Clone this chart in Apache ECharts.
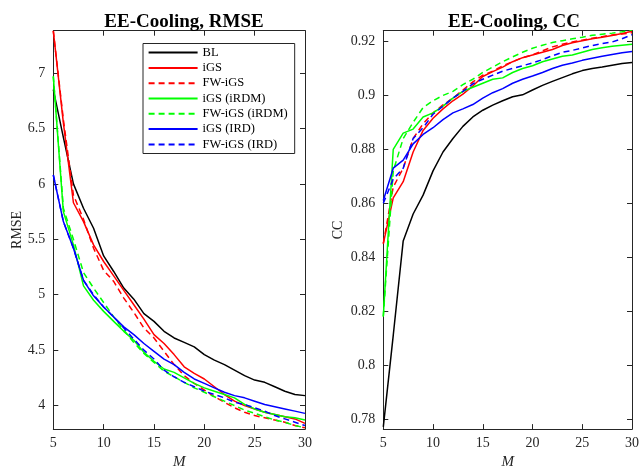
<!DOCTYPE html>
<html>
<head>
<meta charset="utf-8">
<script src="https://cdn.jsdelivr.net/npm/echarts@6/dist/echarts.min.js"></script>
<style>html,body{margin:0;padding:0;background:#fff;}#c{width:642px;height:475px;}</style>
</head>
<body>
<div id="c"></div>
<script>
const M = [5,6,7,8,9,10,11,12,13,14,15,16,17,18,19,20,21,22,23,24,25,26,27,28,29,30];
const seriesNames = ['BL','iGS','FW-iGS','iGS (iRDM)','FW-iGS (iRDM)','iGS (IRD)','FW-iGS (IRD)'];
const xTicks = [5,10,15,20,25,30];

// RMSE panel
const rmseBL        = [6.85,6.42,6.00,5.78,5.60,5.35,5.21,5.06,4.96,4.83,4.76,4.67,4.61,4.57,4.53,4.46,4.41,4.37,4.32,4.27,4.23,4.21,4.17,4.13,4.10,4.09];
const rmseIGS       = [7.38,6.55,5.83,5.66,5.45,5.30,5.17,5.04,4.91,4.78,4.64,4.56,4.46,4.35,4.29,4.24,4.17,4.10,4.04,4.00,3.97,3.94,3.92,3.90,3.88,3.84];
const rmseFWIGS     = [7.38,6.58,5.90,5.68,5.42,5.22,5.12,4.97,4.84,4.70,4.61,4.49,4.37,4.27,4.20,4.14,4.08,4.03,3.98,3.94,3.91,3.89,3.87,3.85,3.82,3.80];
const rmseIGSiRDM   = [6.97,5.75,5.45,5.08,4.95,4.85,4.76,4.67,4.59,4.48,4.40,4.33,4.30,4.25,4.20,4.16,4.13,4.10,4.07,4.01,3.97,3.94,3.92,3.90,3.89,3.87];
const rmseFWIGSiRDM = [6.97,5.78,5.50,5.20,5.06,4.93,4.80,4.68,4.57,4.47,4.39,4.31,4.26,4.21,4.16,4.12,4.08,4.04,4.00,3.96,3.93,3.90,3.87,3.85,3.82,3.80];
const rmseIGSIRD    = [6.08,5.66,5.42,5.13,4.99,4.89,4.80,4.71,4.64,4.56,4.49,4.42,4.37,4.30,4.24,4.20,4.16,4.12,4.09,4.07,4.04,4.01,3.99,3.97,3.95,3.93];
const rmseFWIGSIRD  = [6.08,5.66,5.42,5.13,5.00,4.89,4.80,4.70,4.60,4.50,4.42,4.32,4.26,4.21,4.17,4.13,4.10,4.07,4.03,4.01,3.98,3.95,3.91,3.88,3.85,3.82];

// CC panel
const ccBL        = [0.777,0.811,0.846,0.856,0.863,0.872,0.879,0.884,0.8885,0.892,0.8945,0.8964,0.898,0.8995,0.9002,0.902,0.9037,0.9052,0.9066,0.908,0.9092,0.910,0.9105,0.9112,0.9118,0.9122];
const ccIGS       = [0.845,0.862,0.868,0.879,0.887,0.8915,0.895,0.898,0.9005,0.9035,0.907,0.9088,0.9105,0.9125,0.914,0.915,0.916,0.917,0.9185,0.9195,0.9203,0.921,0.9216,0.9222,0.923,0.9238];
const ccFWIGS     = [0.845,0.866,0.873,0.884,0.8895,0.8935,0.8965,0.899,0.902,0.905,0.9075,0.909,0.911,0.9125,0.914,0.915,0.9165,0.918,0.919,0.9198,0.9205,0.9212,0.9218,0.9224,0.9228,0.9232];
const ccIGSiRDM   = [0.818,0.880,0.886,0.8875,0.892,0.8935,0.896,0.899,0.9015,0.903,0.9045,0.906,0.9065,0.9085,0.910,0.911,0.9125,0.9135,0.9145,0.915,0.916,0.917,0.9177,0.9182,0.9186,0.919];
const ccFWIGSiRDM = [0.818,0.872,0.884,0.890,0.8955,0.898,0.900,0.9015,0.904,0.906,0.9085,0.9105,0.9125,0.9143,0.916,0.9175,0.9186,0.9196,0.9203,0.921,0.9216,0.9223,0.9227,0.9231,0.9236,0.9243];
const ccIGSIRD    = [0.861,0.873,0.876,0.882,0.8855,0.888,0.891,0.8935,0.895,0.8966,0.899,0.901,0.9025,0.9045,0.906,0.9072,0.9085,0.910,0.9112,0.912,0.913,0.9138,0.9145,0.9152,0.9158,0.9163];
const ccFWIGSIRD  = [0.860,0.869,0.873,0.884,0.888,0.893,0.896,0.899,0.9015,0.9043,0.906,0.9075,0.909,0.910,0.911,0.912,0.9133,0.9147,0.916,0.9167,0.9176,0.9185,0.9192,0.9198,0.921,0.9225];

const rmseData = [rmseBL,rmseIGS,rmseFWIGS,rmseIGSiRDM,rmseFWIGSiRDM,rmseIGSIRD,rmseFWIGSIRD];
const ccData = [ccBL,ccIGS,ccFWIGS,ccIGSiRDM,ccFWIGSiRDM,ccIGSIRD,ccFWIGSIRD];
const colors = ['#000000','#ff0000','#ff0000','#00ff00','#00ff00','#0000ff','#0000ff'];
const dashed = [false,false,true,false,true,false,true];

const FONT = 'Liberation Serif';
const AX = '#262626';

function fmt(step){
  return function(v){
    const r = v/step;
    if (Math.abs(r - Math.round(r)) < 1e-6) return String(+v.toFixed(3));
    return '';
  };
}

function xAxes(gi){
  const base = {type:'value', gridIndex:gi, min:5, max:30, interval:5,
    axisLine:{show:true, lineStyle:{color:AX, width:1}},
    axisTick:{show:true, inside:true, length:5, lineStyle:{color:AX}},
    splitLine:{show:false}};
  return [
    Object.assign({}, base, {position:'bottom',
      axisLabel:{show:true, color:AX, fontFamily:FONT, fontSize:14, margin:7},
      name:'M', nameLocation:'middle', nameGap:22,
      nameTextStyle:{fontFamily:FONT, fontSize:15, fontStyle:'italic', color:AX}}),
    Object.assign({}, base, {position:'top', axisLabel:{show:false}})
  ];
}
function yAxes(gi, min, max, step, name, gap){
  const base = {type:'value', gridIndex:gi, min:min, max:max, minInterval:step, maxInterval:step,
    axisLine:{show:true, lineStyle:{color:AX, width:1}},
    axisTick:{show:true, inside:true, length:5, lineStyle:{color:AX}},
    splitLine:{show:false}};
  return [
    Object.assign({}, base, {position:'left',
      axisLabel:{show:true, color:AX, fontFamily:FONT, fontSize:14, margin:8, formatter:fmt(step)},
      name:name, nameLocation:'middle', nameGap:gap, nameRotate:90,
      nameTextStyle:{fontFamily:FONT, fontSize:14, color:AX}}),
    Object.assign({}, base, {position:'right', axisLabel:{show:false}})
  ];
}

const series = [];
seriesNames.forEach((n,i)=>{
  series.push({name:n, type:'line', xAxisIndex:0, yAxisIndex:0, symbol:'none', clip:true,
    data:M.map((m,j)=>[m, rmseData[i][j]]),
    lineStyle:{color:colors[i], width:1.5, type: dashed[i]?[6,4]:'solid'},
    itemStyle:{color:colors[i]}, animation:false});
});
seriesNames.forEach((n,i)=>{
  series.push({name:n, type:'line', xAxisIndex:2, yAxisIndex:2, symbol:'none', clip:true,
    data:M.map((m,j)=>[m, ccData[i][j]]),
    lineStyle:{color:colors[i], width:1.5, type: dashed[i]?[6,4]:'solid'},
    itemStyle:{color:colors[i]}, animation:false});
});

const chart = echarts.init(document.getElementById('c'), null, {renderer:'canvas'});
chart.setOption({
  backgroundColor:'#ffffff',
  animation:false,
  title:[
    {text:'EE-Cooling, RMSE', left:179, top:8, textAlign:'center',
     textStyle:{fontFamily:FONT, fontSize:19, fontWeight:'bold', color:'#000'}},
    {text:'EE-Cooling, CC', left:509, top:8, textAlign:'center',
     textStyle:{fontFamily:FONT, fontSize:19, fontWeight:'bold', color:'#000'}}
  ],
  legend:{
    data:seriesNames, orient:'vertical', left:143, top:43.5,
    backgroundColor:'#ffffff', borderColor:AX, borderWidth:1,
    padding:[2.6,7,2.6,4.6], itemWidth:49, itemHeight:13, itemGap:2.3,
    itemStyle:{opacity:0, borderWidth:0},
    textStyle:{fontFamily:FONT, fontSize:12.5, color:'#000', lineHeight:13},
    selectedMode:false
  },
  grid:[
    {left:53.3, right:337, top:30.7, bottom:36.7},
    {left:383.3, right:7, top:30.7, bottom:36.7}
  ],
  xAxis:[...xAxes(0), ...xAxes(1)],
  yAxis:[...yAxes(0, 3.788, 7.382, 0.5, 'RMSE', 29), ...yAxes(1, 0.7762, 0.924, 0.02, 'CC', 38)],
  series:series
});
</script>
</body>
</html>
